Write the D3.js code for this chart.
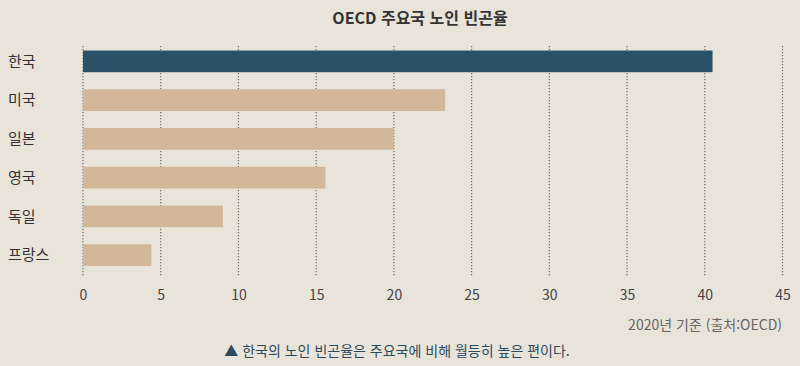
<!DOCTYPE html>
<html lang="ko">
<head>
<meta charset="UTF-8">
<title>OECD 주요국 노인 빈곤율</title>
<script src="https://cdn.jsdelivr.net/npm/d3@7"></script>
<style>
  body { margin: 0; background: #e9e4da; }
  svg { display: block; font-family: "Noto Sans CJK KR", "Noto Sans", sans-serif; }
</style>
</head>
<body>
<svg id="chart" width="800" height="366"></svg>
<script>
  // data
  const countries = ["한국", "미국", "일본", "영국", "독일", "프랑스"];
  const rates = [40.5, 23.3, 20.0, 15.6, 9.0, 4.4];
  const ticks = [0, 5, 10, 15, 20, 25, 30, 35, 40, 45];

  const svg = d3.select("#chart");
  const W = 800, H = 366;

  svg.append("rect").attr("width", W).attr("height", H).attr("fill", "#e9e4da");

  const x = d3.scaleLinear().domain([0, 45]).range([83, 782.5]);
  const y = d3.scaleBand().domain(countries).range([42, 274.5]).paddingInner(0.44).paddingOuter(0.22);

  // title
  svg.append("text")
    .attr("x", 420).attr("y", 24)
    .attr("text-anchor", "middle")
    .attr("font-size", 16).attr("font-weight", "bold")
    .attr("fill", "#333")
    .text("OECD 주요국 노인 빈곤율");

  // grid lines (dotted)
  svg.append("g").selectAll("line")
    .data(ticks).join("line")
    .attr("x1", d => x(d)).attr("x2", d => x(d))
    .attr("y1", 46).attr("y2", 277)
    .attr("stroke", "#6b6b6b").attr("stroke-width", 1.2)
    .attr("stroke-dasharray", "1.2,1.8");

  // bars
  svg.append("g").selectAll("rect")
    .data(countries).join("rect")
    .attr("x", x(0))
    .attr("y", d => y(d))
    .attr("width", (d, i) => x(rates[i]) - x(0))
    .attr("height", y.bandwidth())
    .attr("fill", (d, i) => i === 0 ? "#2b5168" : "#d3b799");

  // category labels
  svg.append("g").selectAll("text")
    .data(countries).join("text")
    .attr("x", 8)
    .attr("y", d => y(d) + y.bandwidth() / 2)
    .attr("dy", "0.35em")
    .attr("font-size", 15)
    .attr("fill", "#333")
    .text(d => d);

  // x axis labels
  const xAxis = d3.axisBottom(x).tickValues(ticks).tickSize(0).tickPadding(0);
  const ax = svg.append("g").attr("transform", "translate(0,290)").call(xAxis);
  ax.select(".domain").remove();
  ax.selectAll("text")
    .attr("font-size", 14)
    .attr("font-family", "\"Noto Sans CJK KR\", sans-serif")
    .attr("fill", "#444")
    .attr("dy", "0.71em");

  // source note
  svg.append("text")
    .attr("x", 782).attr("y", 330)
    .attr("text-anchor", "end")
    .attr("font-size", 14)
    .attr("fill", "#666")
    .text("2020년 기준 (출처:OECD)");

  // caption
  svg.append("text")
    .attr("x", 397).attr("y", 356)
    .attr("text-anchor", "middle")
    .attr("font-size", 14)
    .attr("fill", "#2b4a5e")
    .text("▲ 한국의 노인 빈곤율은 주요국에 비해 월등히 높은 편이다.");
</script>
</body>
</html>
